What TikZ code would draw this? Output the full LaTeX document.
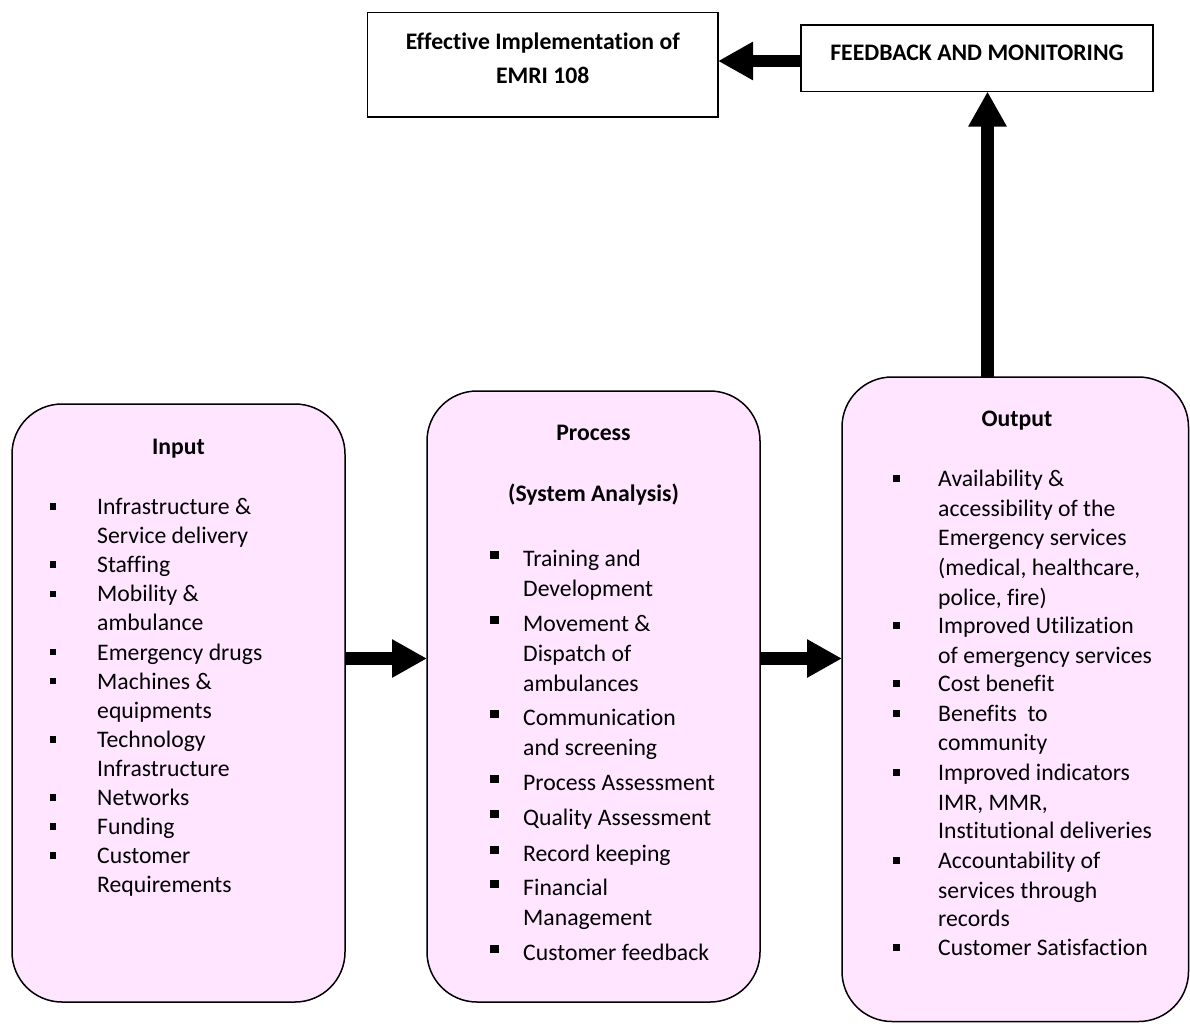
\documentclass[tikz,border=0pt]{standalone}
\usepackage{fontspec}
\setmainfont{Carlito}[Ligatures=NoCommon]
\usetikzlibrary{arrows.meta}
\definecolor{boxpink}{RGB}{255,229,255}
\begin{document}
\begin{tikzpicture}[x=1pt,y=-1pt,
  panel/.style={draw=black,line width=1.5pt,fill=boxpink,rounded corners=50pt,inner sep=0pt,outer sep=0pt},
  plain/.style={draw=black,line width=1.5pt,fill=white,inner sep=0pt,outer sep=0pt},
  body/.style={anchor=base west,inner sep=0pt,font=\fontsize{23.7}{29}\selectfont},
  head/.style={anchor=base,inner sep=0pt,font=\fontsize{23.7}{29}\selectfont\bfseries},
  blk/.style={line width=12.5pt,-{Triangle[length=35pt,width=36pt]}}]
\useasboundingbox (0,0) rectangle (1190,1023);

% top boxes
\node[plain,minimum width=350.5pt,minimum height=104.5pt] (eff) at (542.75,64.75) {};
\node[head] (effa) at (542.75,49) {Effective Implementation of};
\node[head] (effb) at (542.75,83) {EMRI 108};
\node[plain,minimum width=352pt,minimum height=66.5pt] (fb) at (977,58.25) {};
\node[head] (fbt) at (977,60) {FEEDBACK AND MONITORING};

% the three stages
\node[panel,minimum width=333pt,minimum height=598pt] (inp) at (178.5,703) {};
\node[panel,minimum width=333pt,minimum height=611pt] (proc) at (593.5,696.5) {};
\node[panel,minimum width=346.5pt,minimum height=644.5pt] (out) at (1015.25,699.25) {};

% Input
\node[head] (inpt) at (178.5,454) {Input};
\foreach \t [count=\k] in {Infrastructure \&,Service delivery,Staffing,Mobility \&,ambulance,Emergency drugs,Machines \&,equipments,Technology,Infrastructure,Networks,Funding,Customer,Requirements}
  \node[body] (in\k) at (97,{514.5+29.1*(\k-1)}) {\t};
\foreach \k in {1,3,4,6,7,9,11,12,13}
  \fill (49.75,{506.5+29.1*(\k-1)-3.25}) rectangle ++(6.5,6.5);

% Process
\node[head] (proct) at (593.5,440) {Process};
\node[head] (procs) at (593.5,501) {(System Analysis)};
\foreach \y/\t [count=\k] in {558/Training and,588/Development,623/Movement \&,653/Dispatch of,683/ambulances,717/Communication,747/and screening,782/Process Assessment,817/Quality Assessment,853/Record keeping,887/Financial,917/Management,952/Customer feedback}
  \node[body] (pr\k) at (523,\y+8) {\t};
\foreach \y in {558,623,717,782,817,853,887,952}
  \fill (489.5,\y-3-4.25) rectangle ++(9,8.5);

% Output
\node[head] (outt) at (1017,426) {Output};
\foreach \y/\t [count=\k] in {478/Availability \&,508/accessibility of the,537/Emergency services,567/{(medical, healthcare,},597/{police, fire)},625/Improved Utilization,655/of emergency services,683/Cost benefit,713/Benefits~ to,742/community,772/Improved indicators,802/{IMR, MMR,},830/Institutional deliveries,860/Accountability of,890/services through,918/records,947/Customer Satisfaction}
  \node[body] (ou\k) at (938,\y+8) {\t};
\foreach \y in {478,625,683,713,772,860,947}
  \fill (892.5,\y-3.5) rectangle ++(7,7);

% connectors
\coordinate (vx) at (987.5,0);
\draw[blk] ([yshift=44.5pt]inp.east) -- ([yshift=44.5pt]inp.east -| proc.west);
\draw[blk] ([yshift=38pt]proc.east) -- ([yshift=38pt]proc.east -| out.west);
\draw[blk] (out.north -| vx) -- (fb.south -| vx);
\draw[blk] ([yshift=-2.75pt]fb.west) -- ([yshift=-2.75pt]fb.west -| eff.east);
\end{tikzpicture}
\end{document}
